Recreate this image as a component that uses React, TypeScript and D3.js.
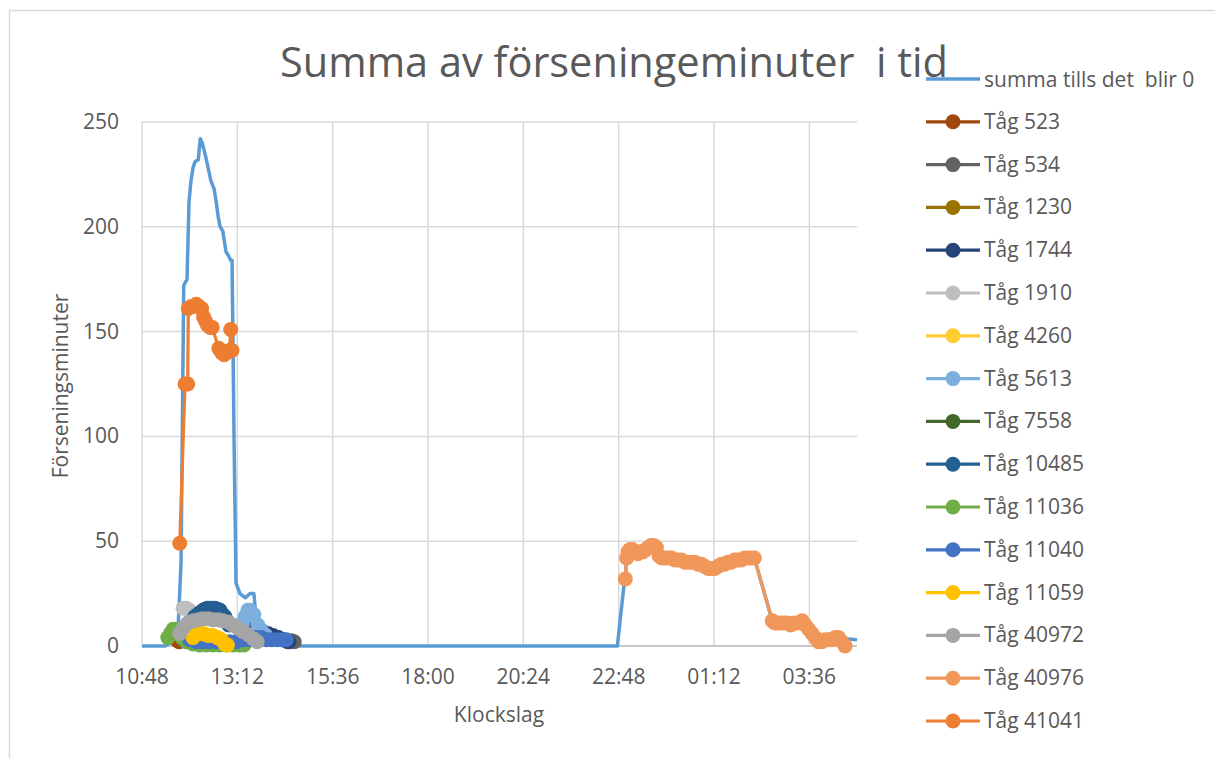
import React from "react";
import * as d3 from "d3";

type Pt = [string, number];

// x axis: Excel day fractions, 10:48 (0.45) to 04:48 next day (1.2)
const xTicks = ["10:48", "13:12", "15:36", "18:00", "20:24", "22:48", "01:12", "03:36"];
const yTicks = [0, 50, 100, 150, 200, 250];

const summa: Pt[] = [
    ["10:48", 0], ["11:23", 0], ["11:33", 2], ["11:42", 5], ["11:47", 40], ["11:51", 172],
    ["11:56", 175], ["11:59", 212], ["12:02", 222], ["12:05", 228], ["12:08", 231], ["12:13", 232],
    ["12:16", 242], ["12:19", 240], ["12:23", 235], ["12:28", 228], ["12:32", 222], ["12:37", 218],
    ["12:40", 212], ["12:43", 205], ["12:46", 200], ["12:50", 198], ["12:55", 188], ["12:59", 186],
    ["13:02", 184], ["13:04", 184], ["13:07", 100], ["13:10", 30], ["13:16", 25], ["13:24", 23],
    ["13:31", 25], ["13:37", 25], ["13:40", 15], ["13:45", 8], ["13:54", 6], ["14:04", 5],
    ["14:12", 3], ["14:21", 0], ["22:46", 0], ["22:56", 29], ["22:58", 32], ["23:00", 42],
    ["23:09", 46], ["23:21", 45], ["23:37", 48], ["23:49", 43], ["00:18", 41], ["00:48", 39],
    ["01:08", 37], ["01:28", 39], ["01:53", 41], ["02:13", 42], ["02:40", 12], ["03:08", 10],
    ["03:25", 12], ["03:50", 2], ["04:20", 4], ["04:30", 3.5], ["04:48", 3]
];

const tag523: Pt[] = [["11:42", 2.5], ["11:44", 2]];
const tag534: Pt[] = [["14:28", 2], ["14:34", 2.5], ["14:38", 2]];
const tag1230: Pt[] = [["12:20", 3], ["12:25", 2]];
const tag1744: Pt[] = [
    ["13:36", 8], ["13:42", 8], ["13:50", 7], ["13:58", 6], ["14:06", 5], ["14:14", 4],
    ["14:22", 3], ["14:30", 2]
];
const tag1910: Pt[] = [["11:50", 18], ["11:55", 18], ["12:00", 17], ["12:04", 15], ["12:10", 12]];
const tag4260: Pt[] = [["12:10", 5], ["12:18", 6], ["12:26", 4]];
const tag5613: Pt[] = [
    ["13:16", 8], ["13:20", 11], ["13:24", 14], ["13:28", 17], ["13:31", 17], ["13:37", 15],
    ["13:43", 10], ["13:49", 7], ["13:55", 5]
];
const tag7558: Pt[] = [["12:30", 1], ["12:35", 1]];
const tag10485: Pt[] = [
    ["12:01", 10], ["12:05", 12], ["12:08", 14], ["12:12", 15], ["12:16", 16], ["12:20", 17],
    ["12:23", 17.5], ["12:27", 18], ["12:31", 18], ["12:35", 18], ["12:38", 18], ["12:42", 17.5],
    ["12:46", 17], ["12:50", 15], ["12:53", 14], ["12:56", 12], ["12:59", 10]
];
const tag11036: Pt[] = [
    ["11:27", 4], ["11:31", 6], ["11:35", 8], ["11:39", 8], ["11:42", 6], ["11:48", 4],
    ["11:55", 2], ["12:05", 1], ["12:15", 0.5], ["12:25", 0.5], ["12:35", 0.5], ["12:45", 0.5],
    ["12:55", 0.5], ["13:05", 0.5], ["13:15", 0.5], ["13:22", 0.5]
];
const tag11040: Pt[] = [
    ["12:00", 3], ["12:10", 2], ["12:20", 2], ["12:30", 2], ["12:40", 2], ["12:50", 2],
    ["13:00", 2], ["13:10", 2], ["13:20", 3], ["13:30", 3], ["13:40", 4], ["13:48", 4],
    ["13:56", 3], ["14:04", 3], ["14:12", 3], ["14:20", 3], ["14:26", 3]
];
const tag11059: Pt[] = [
    ["12:05", 4], ["12:08", 5], ["12:12", 6], ["12:16", 6], ["12:20", 6], ["12:24", 5.5],
    ["12:28", 5], ["12:35", 5], ["12:42", 4], ["12:48", 3], ["12:53", 1], ["12:57", 0.5]
];
const tag40972: Pt[] = [
    ["11:45", 6], ["11:51", 9], ["11:57", 11], ["12:05", 12], ["12:13", 12.5], ["12:20", 13],
    ["12:28", 13], ["12:35", 12.5], ["12:43", 12.5], ["12:50", 12], ["12:58", 11.5], ["13:05", 10],
    ["13:13", 8.5], ["13:20", 7], ["13:28", 5.5], ["13:36", 3.5], ["13:42", 2]
];
const tag40976: Pt[] = [
    ["22:58", 32], ["23:00", 42], ["23:02", 45], ["23:05", 46], ["23:09", 46], ["23:13", 45],
    ["23:17", 44], ["23:21", 45], ["23:25", 45], ["23:29", 46], ["23:33", 47], ["23:37", 48],
    ["23:41", 48], ["23:45", 47], ["23:49", 43], ["23:53", 42], ["23:58", 42], ["00:03", 42],
    ["00:08", 42], ["00:13", 41], ["00:18", 41], ["00:23", 41], ["00:28", 40], ["00:33", 40],
    ["00:38", 40], ["00:43", 40], ["00:48", 39], ["00:53", 39], ["00:58", 38], ["01:03", 37],
    ["01:08", 37], ["01:13", 37], ["01:18", 38], ["01:23", 39], ["01:28", 39], ["01:33", 40],
    ["01:38", 40], ["01:43", 41], ["01:48", 41], ["01:53", 41], ["01:58", 42], ["02:03", 42],
    ["02:08", 42], ["02:13", 42], ["02:40", 12], ["02:44", 11], ["02:48", 11], ["02:53", 11],
    ["02:58", 11], ["03:03", 11], ["03:08", 10], ["03:13", 11], ["03:18", 11], ["03:25", 12],
    ["03:30", 10], ["03:35", 8], ["03:40", 6], ["03:45", 4], ["03:50", 2], ["03:55", 2],
    ["04:00", 3], ["04:05", 3], ["04:10", 3], ["04:15", 4], ["04:20", 4], ["04:25", 2], ["04:30", 0]
];
const tag41041: Pt[] = [
    ["11:45", 49], ["11:53", 125], ["11:57", 125], ["11:58", 161], ["12:02", 162], ["12:06", 162],
    ["12:10", 163], ["12:14", 162], ["12:18", 161], ["12:21", 157], ["12:24", 155], ["12:27", 153],
    ["12:31", 152], ["12:34", 152], ["12:44", 142], ["12:48", 140], ["12:52", 139], ["12:56", 140],
    ["13:00", 141], ["13:02", 151], ["13:04", 141]
];

const seriesNames = [
    "Tåg 523", "Tåg 534", "Tåg 1230", "Tåg 1744", "Tåg 1910", "Tåg 4260", "Tåg 5613", "Tåg 7558",
    "Tåg 10485", "Tåg 11036", "Tåg 11040", "Tåg 11059", "Tåg 40972", "Tåg 40976", "Tåg 41041"
];
const seriesData = [
    tag523, tag534, tag1230, tag1744, tag1910, tag4260, tag5613, tag7558,
    tag10485, tag11036, tag11040, tag11059, tag40972, tag40976, tag41041
];
const seriesColors = [
    "#9E480E", "#636363", "#997300", "#264478", "#BFBFBF", "#FFCD33", "#7CAFDD", "#43682B",
    "#255E91", "#70AD47", "#4472C4", "#FFC000", "#A5A5A5", "#F1975A", "#ED7D31"
];
const summaName = "summa tills det  blir 0";
const summaColor = "#5B9BD5";

const width = 1215;
const height = 758;
const plot = {left: 142, right: 857, top: 122, bottom: 646};
const textColor = "#595959";
const font = "'Open Sans', sans-serif";

// "HH:MM" -> day fraction, times before 10:48 belong to the next day
function toDay(t: string): number {
    const [h, m] = t.split(":").map(Number);
    const d = h / 24 + m / 1440;
    return d < 0.449 ? d + 1 : d;
}

export default function App() {
    const xScale = d3.scaleLinear().domain([0.45, 1.2]).range([plot.left, plot.right]);
    const yScale = d3.scaleLinear().domain([0, 250]).range([plot.bottom, plot.top]);

    const line = d3.line<Pt>()
        .x(d => xScale(toDay(d[0])))
        .y(d => yScale(d[1]));

    const legendY = (i: number) => 79 + i * 42.8;

    return (
        <svg width={width} height={height} style={{position: "absolute", left: 0, top: 0, background: "white"}}
             fontFamily={font}>
            <rect x={9.5} y={10.5} width={width + 20} height={height + 20} fill="white" stroke="#D9D9D9"
                  strokeWidth={1.5}/>

            {/* grid */}
            {yTicks.map(v => (
                <line key={"gy" + v} x1={plot.left} x2={plot.right} y1={yScale(v)} y2={yScale(v)}
                      stroke="#D9D9D9" strokeWidth={1.5}/>
            ))}
            {xTicks.map(t => (
                <line key={"gx" + t} x1={xScale(toDay(t))} x2={xScale(toDay(t))} y1={plot.top} y2={plot.bottom}
                      stroke="#D9D9D9" strokeWidth={1.5}/>
            ))}
            <line x1={plot.left} x2={plot.right} y1={plot.bottom} y2={plot.bottom} stroke="#BFBFBF" strokeWidth={1.5}/>

            {/* tick labels */}
            {yTicks.map(v => (
                <text key={"ty" + v} x={119} y={yScale(v) + 7} textAnchor="end" fontSize={21} fill={textColor}>{v}</text>
            ))}
            {xTicks.map(t => (
                <text key={"tx" + t} x={xScale(toDay(t))} y={684} textAnchor="middle" fontSize={21}
                      fill={textColor}>{t}</text>
            ))}

            {/* titles */}
            <text x={614} y={77} textAnchor="middle" fontSize={41.5} fill={textColor} style={{whiteSpace: "pre"}}>
                Summa av förseningeminuter  i tid
            </text>
            <text x={499} y={722} textAnchor="middle" fontSize={21} fill={textColor}>Klockslag</text>
            <text transform="translate(68,386) rotate(-90)" textAnchor="middle" fontSize={21}
                  fill={textColor}>Förseningsminuter</text>

            {/* series */}
            <path d={line(summa) || ""} fill="none" stroke={summaColor} strokeWidth={3.5} strokeLinejoin="round"/>
            {seriesData.map((data, i) => (
                <g key={seriesNames[i]}>
                    <path d={line(data) || ""} fill="none" stroke={seriesColors[i]} strokeWidth={3.2}
                          strokeLinejoin="round"/>
                    {data.map((d, j) => (
                        <circle key={j} cx={xScale(toDay(d[0]))} cy={yScale(d[1])} r={7.5} fill={seriesColors[i]}/>
                    ))}
                </g>
            ))}

            {/* legend */}
            <g>
                <line x1={926} x2={980} y1={legendY(0)} y2={legendY(0)} stroke={summaColor} strokeWidth={3.5}/>
                <text x={984} y={legendY(0) + 8} fontSize={21} fill={textColor} style={{whiteSpace: "pre"}}>
                    {summaName}
                </text>
                {seriesNames.map((name, i) => (
                    <g key={"lg" + name}>
                        <line x1={926} x2={980} y1={legendY(i + 1)} y2={legendY(i + 1)} stroke={seriesColors[i]}
                              strokeWidth={3.2}/>
                        <circle cx={953} cy={legendY(i + 1)} r={7.5} fill={seriesColors[i]}/>
                        <text x={984} y={legendY(i + 1) + 7} fontSize={21} fill={textColor}>{name}</text>
                    </g>
                ))}
            </g>
        </svg>
    );
}
